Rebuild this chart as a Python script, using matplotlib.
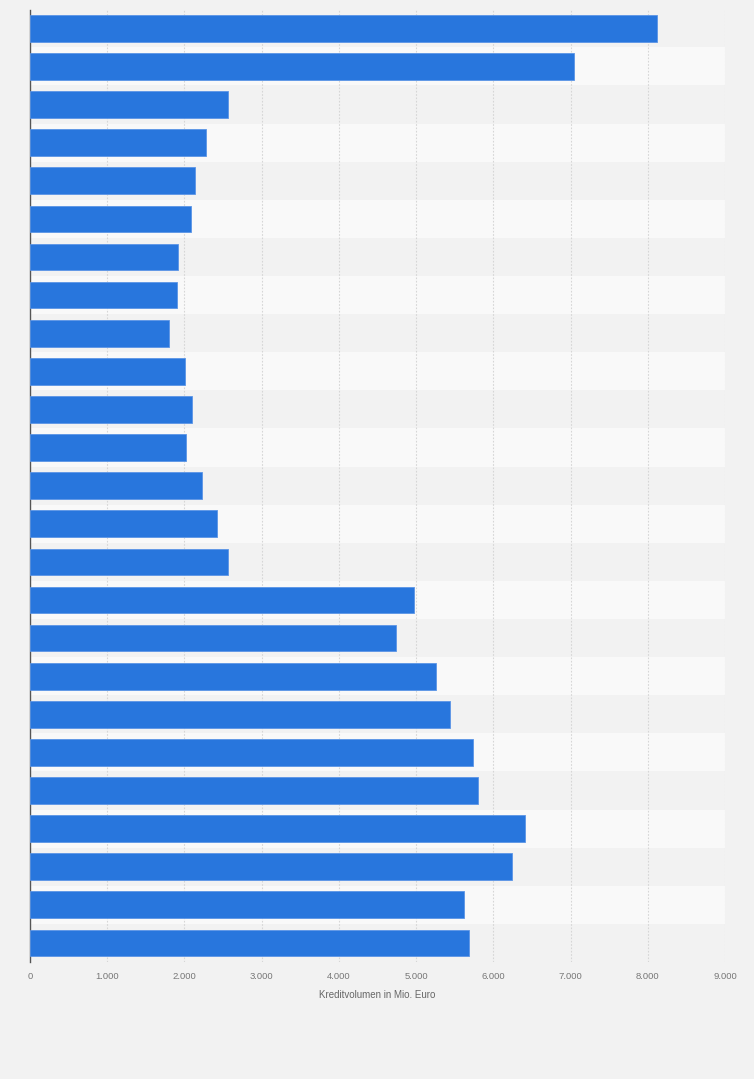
import numpy as np
import matplotlib.pyplot as plt
from matplotlib.ticker import FuncFormatter

# Kreditvolumen in Mio. Euro, rows from top to bottom
rows = list(range(1, 26))
volumes = [8117, 7042, 2563, 2273, 2131, 2079, 1911, 1898, 1803, 2001,
           2092, 2014, 2221, 2416, 2563, 4971, 4746, 5256, 5437, 5735,
           5799, 6408, 6239, 5618, 5683]
x_ticks = [0, 1000, 2000, 3000, 4000, 5000, 6000, 7000, 8000, 9000]
x_label = "Kreditvolumen in Mio. Euro"

bg = "#f2f2f2"
bar_color = "#2876dd"
plt.rcParams["font.family"] = ["Liberation Sans", "DejaVu Sans"]

fig = plt.figure(figsize=(7.54, 10.79), dpi=100, facecolor=bg)
W, H = 754, 1079
ax = fig.add_axes([30 / W, 1 - 962 / H, (725 - 30) / W, (962 - 10) / H])
ax.set_facecolor(bg)

n = len(rows)
ypos = np.arange(n)

# alternating row stripes
for i in ypos:
    if i % 2 == 1:
        ax.axhspan(i - 0.5, i + 0.5, color="#f9f9f9", zorder=0, lw=0)

# dotted vertical grid
for t in x_ticks[1:]:
    ax.axvline(t, color="#d6d6d6", lw=0.8, ls=(0, (1.5, 1.5)), zorder=1)

ax.barh(ypos, volumes, height=0.70, color=bar_color,
        edgecolor="#5b95e6", linewidth=0.6, zorder=3)

ax.set_ylim(n - 0.5, -0.48)
ax.set_xlim(0, 9000)
ax.set_yticks([])
ax.set_xticks(x_ticks)
ax.xaxis.set_major_formatter(
    FuncFormatter(lambda v, p: f"{int(v):,}".replace(",", ".")))
ax.tick_params(axis="x", length=0, labelsize=6.8, labelcolor="#777777", pad=7.5)

for s in ["top", "right", "bottom"]:
    ax.spines[s].set_visible(False)
ax.spines["left"].set_color("#555555")
ax.spines["left"].set_linewidth(1.0)

ax.set_xlabel(x_label, fontsize=7, color="#666666", labelpad=6)

fig.savefig("out.png", dpi=100, facecolor=bg)
